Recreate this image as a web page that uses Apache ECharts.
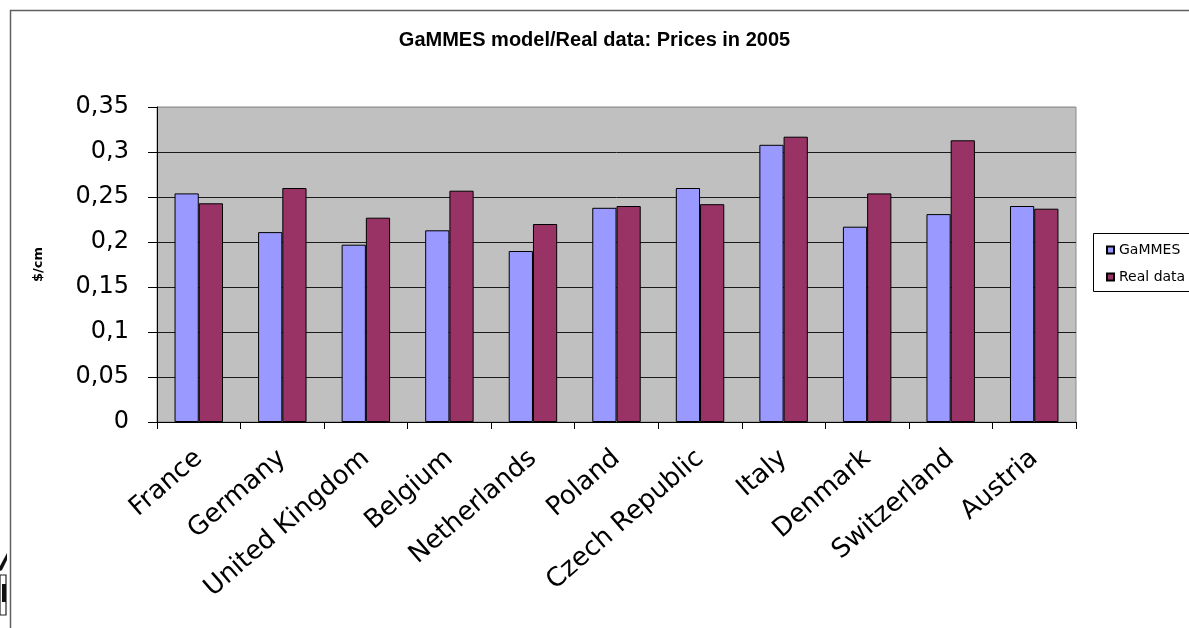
<!DOCTYPE html>
<html>
<head>
<meta charset="utf-8">
<title>GaMMES model/Real data: Prices in 2005</title>
<script src="https://cdn.jsdelivr.net/npm/echarts@6/dist/echarts.min.js"></script>
<style>
  html, body { margin: 0; padding: 0; background: #ffffff; }
  #chart { width: 1189px; height: 628px; }
</style>
</head>
<body>
<div id="chart"></div>
<script>
// Countries on the category axis
const categories = ['France', 'Germany', 'United Kingdom', 'Belgium', 'Netherlands', 'Poland',
  'Czech Republic', 'Italy', 'Denmark', 'Switzerland', 'Austria'];

// Price per cm, model output
const gammes = [0.254, 0.211, 0.197, 0.213, 0.190, 0.238, 0.260, 0.308, 0.217, 0.231, 0.240];

// Price per cm, observed
const realData = [0.243, 0.260, 0.227, 0.257, 0.220, 0.240, 0.242, 0.317, 0.254, 0.313, 0.237];

// Value axis range and step
const yMin = 0;
const yMax = 0.35;
const yStep = 0.05;

const chart = echarts.init(document.getElementById('chart'), null, { renderer: 'canvas' });

// Horizontal grid lines: dark inside the plot, light at the top edge
const gridLineColors = ['#000', '#1a1a1a', '#1a1a1a', '#1a1a1a', '#1a1a1a', '#1a1a1a', '#1a1a1a', '#9a9a9a'];

chart.setOption({
  animation: false,
  backgroundColor: '#ffffff',
  title: {
    text: 'GaMMES model/Real data: Prices in 2005',
    left: 'center',
    top: 25,
    textStyle: {
      fontFamily: 'Liberation Sans',
      fontWeight: 'bold',
      fontSize: 20,
      color: '#000'
    }
  },
  legend: {
    orient: 'vertical',
    left: 1093,
    top: 233,
    padding: [10, 10, 9, 13],
    itemGap: 13,
    itemWidth: 7,
    itemHeight: 7,
    icon: 'rect',
    borderWidth: 0,
    z: 10,
    textStyle: {
      fontFamily: 'DejaVu Sans',
      fontSize: 14,
      color: '#000'
    },
    data: ['GaMMES', 'Real data']
  },
  grid: {
    left: 157,
    right: 113,
    top: 107,
    bottom: 206,
    show: true,
    backgroundColor: '#c0c0c0',
    borderColor: '#8a8a8a',
    borderWidth: 1
  },
  xAxis: {
    type: 'category',
    data: categories,
    axisLine: { lineStyle: { color: '#000', width: 1 } },
    axisTick: { show: true, length: 7, lineStyle: { color: '#000' } },
    axisLabel: {
      rotate: 41,
      margin: 33,
      interval: 0,
      fontFamily: 'DejaVu Sans',
      fontSize: 26,
      color: '#000'
    },
    splitLine: { show: false }
  },
  yAxis: {
    type: 'value',
    min: yMin,
    max: yMax,
    interval: yStep,
    name: '$/cm',
    nameLocation: 'middle',
    nameRotate: 90,
    nameGap: 112,
    nameTextStyle: {
      fontFamily: 'DejaVu Sans',
      fontWeight: 'bold',
      fontSize: 13,
      color: '#000'
    },
    axisLine: { show: true, lineStyle: { color: '#000', width: 1 } },
    axisTick: { show: true, length: 9, lineStyle: { color: '#000' } },
    axisLabel: {
      margin: 28,
      fontFamily: 'DejaVu Sans',
      fontSize: 24,
      color: '#000',
      formatter: function (v) {
        return String(Math.round(v * 100) / 100).replace('.', ',');
      }
    },
    splitLine: { show: true, lineStyle: { color: gridLineColors, width: 1 } }
  },
  series: [
    {
      name: 'GaMMES',
      type: 'bar',
      data: gammes,
      barGap: '0%',
      barCategoryGap: '42%',
      itemStyle: { color: '#9999ff', borderColor: '#000', borderWidth: 1 }
    },
    {
      name: 'Real data',
      type: 'bar',
      data: realData,
      barGap: '0%',
      barCategoryGap: '42%',
      itemStyle: { color: '#993366', borderColor: '#000', borderWidth: 1 }
    }
  ],
  graphic: [
    // Outer chart frame
    {
      type: 'rect',
      left: 8,
      top: 8,
      shape: { width: 1300, height: 700 },
      style: { fill: null, stroke: '#606060', lineWidth: 1.5 },
      silent: true,
      z: 100
    },
    // Legend box, running past the right edge
    {
      type: 'rect',
      shape: { x: 1093.5, y: 233.5, width: 200, height: 58 },
      style: { fill: '#fff', stroke: '#000', lineWidth: 1 },
      silent: true,
      z: 1
    },
    // Corner of a drawing peeking in at the lower left
    {
      type: 'polygon',
      shape: { points: [[0, 566], [7, 553], [7, 560], [2, 570], [0, 571]] },
      style: { fill: '#111' },
      silent: true
    },
    {
      type: 'rect',
      shape: { x: 0, y: 575, width: 6, height: 40 },
      style: { fill: '#fff', stroke: '#222', lineWidth: 1.2 },
      silent: true
    },
    {
      type: 'rect',
      shape: { x: 2, y: 584, width: 4, height: 18 },
      style: { fill: '#111' },
      silent: true
    }
  ]
});
</script>
</body>
</html>
